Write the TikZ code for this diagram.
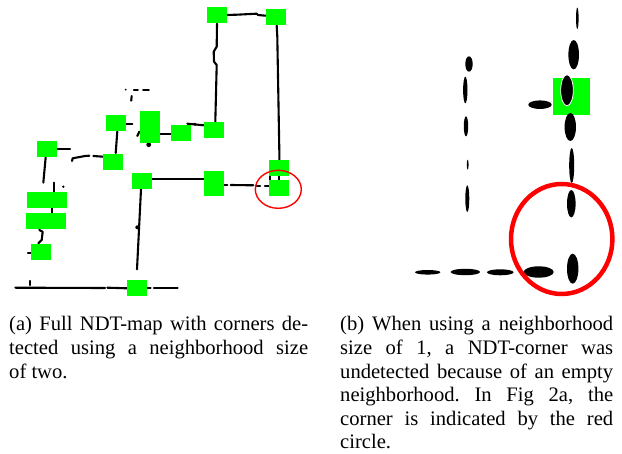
\documentclass[tikz,border=0pt]{standalone}
\usepackage{fontspec}
\setmainfont{Liberation Serif}
\usetikzlibrary{calc}
\tikzset{
  corner/.style={fill=green,inner sep=0pt,minimum width=20pt,minimum height=16.3pt},
  wall/.style={line width=2.1pt,line cap=round,line join=round},
  ndt/.style={fill=black},
  caption/.style={inner sep=0pt,anchor=north west,align=justify,font=\fontsize{20.6}{23.6}\selectfont\frenchspacing},
}
\begin{document}
\begin{tikzpicture}[x=1pt,y=-1pt]
\useasboundingbox (0,0) rectangle (622,454);
% scan walls of the full map
\draw[wall] (226.7,15) -- (236.7,14.7) -- (256.7,13.7) -- (258,15) -- (265.7,15.7);
\draw[wall] (217,23.7) -- (216.7,46.7) -- (213.7,51.7) -- (214,61.7) -- (216.7,65) -- (215.3,122);
\draw[wall] (276.7,25.7) -- (277.3,36.7) -- (279.3,150) -- (279.3,160);
\draw[wall] (133.8,90.3) -- (137.8,90.3);
\draw[wall] (143.2,90.3) -- (148.8,90.3);
\draw[wall] (131.7,96) -- (131.2,100.7);
\draw[wall] (126,124.3) -- (132.3,124.3);
\draw[wall] (117.3,131.7) -- (115.7,153);
\draw[wall] (137.3,136) -- (139.3,131.7);
\draw[wall] (160.3,134) -- (171,134);
\draw[wall] (187.3,123.7) -- (203.7,125.3);
\draw[wall] (57.3,148.7) -- (70,148.7);
\draw[wall] (72,161) -- (72.7,158.3) -- (85,156) -- (89.3,155.7);
\draw[wall] (93.3,156) -- (103,156.7);
\draw[wall] (45.7,157.3) -- (43.3,182.7);
\draw[wall] (54,182.7) -- (54,191.7);
\draw[wall] (52.3,207.7) -- (52.3,212.7);
\draw[wall] (39.3,230) -- (42.7,231.7) -- (41.7,240) -- (38.3,243.3);
\draw[wall] (28,252.7) -- (31.3,252.7);
\draw[wall] (152,179.3) -- (204,179.3);
\draw[wall] (224,185.3) -- (227.3,185.3);
\draw[wall] (230.7,185) -- (253.3,185.3);
\draw[wall] (256.7,185.7) -- (260,185.7);
\draw[wall] (265,185.7) -- (269,185.7);
\draw[wall] (269.7,176) -- (269.7,180);
\draw[wall] (278.7,176) -- (278.7,180);
\draw[wall] (141,189.3) -- (137,269.3);
\draw[wall] (15.3,287.7) -- (105,288);
\draw[wall] (107.3,287.7) -- (127,288.3);
\draw[wall] (30,281) -- (30,285);
\draw[wall] (147,288.3) -- (150.7,288.3);
\draw[wall] (154,288.3) -- (177.7,288.3);
\fill (125.7,89.7) circle (1);
\fill (148.7,144.7) circle (2.4);
\fill (63.3,186.7) circle (1.3);
\fill (137.3,227.3) circle (2);
\fill (195,124.3) circle (1.7);
% detected corners
\node[corner] (topleft) at (216.7,15.3) {};
\node[corner] (topright) at (275.7,17.3) {};
\node[corner] (midA) at (116,123.3) {};
\node[corner] (midB) at (150.3,118.7) {};
\node[corner] (midC) at (150.3,134.8) {};
\node[corner] (midD) at (181,133) {};
\node[corner] (midE) at (213.7,130) {};
\node[corner] (leftA) at (47.3,149) {};
\node[corner] (midF) at (113,161.7) {};
\node[corner] (roomA) at (142,181) {};
\node[corner,minimum height=25pt] (roomB) at (214,183.5) {};
\node[corner] (roomC) at (279,167.7) {};
\node[corner] (roomD) at (279,188) {};
\node[corner] (leftB) at (36.8,199.7) {};
\node[corner] (leftC) at (56.5,199.7) {};
\node[corner] (leftD) at (35.8,220.7) {};
\node[corner] (leftE) at (55.5,220.7) {};
\node[corner] (leftF) at (41,252) {};
\node[corner] (bottom) at (137,288) {};
\draw[red,line width=1.4pt] (278.3,189.3) ellipse [x radius=23,y radius=19];
% closer view
\node[corner,minimum width=37pt,minimum height=37pt] (zoomcorner) at (571.8,96.2) {};
\fill[ndt] (577.3,18.3) ellipse [x radius=1.3,y radius=10.7];
\fill[ndt] (573.7,54.7) ellipse [x radius=5.3,y radius=14.7];
\filldraw[ndt,draw=white,line width=0.8pt] (567,90.3) ellipse [x radius=6.3,y radius=15.5];
\fill[ndt] (540,104.7) ellipse [x radius=11.7,y radius=4.3];
\fill[ndt] (570.3,127) ellipse [x radius=5.7,y radius=14];
\fill[ndt] (571.7,165.5) ellipse [x radius=2.5,y radius=17.5];
\fill[ndt] (571.3,203.7) ellipse [x radius=4.3,y radius=13.7];
\fill[ndt] (572.7,268.7) ellipse [x radius=5.7,y radius=15];
\fill[ndt] (538.7,272) ellipse [x radius=15,y radius=5.7];
\fill[ndt] (500.3,272.3) ellipse [x radius=13.3,y radius=3];
\fill[ndt] (465.3,272) ellipse [x radius=14.7,y radius=3.2];
\fill[ndt] (427.7,272.3) ellipse [x radius=12.7,y radius=2.3];
\fill[ndt] (469,64) ellipse [x radius=3.7,y radius=7.7];
\fill[ndt] (465.3,90) ellipse [x radius=2.2,y radius=13.3];
\fill[ndt] (466,126.3) ellipse [x radius=2.2,y radius=10];
\fill[ndt] (467.7,164.7) ellipse [x radius=0.9,y radius=5];
\fill[ndt] (467.3,198.7) ellipse [x radius=2,y radius=13.3];
\draw[red,line width=4.5pt] (561.7,239) ellipse [x radius=50.7,y radius=55];
% captions
\node[caption,text width=299pt] (captiona) at (9,316.5) {(a) Full NDT-map with corners de-\linebreak tected using a neighborhood size\linebreak of two.};
\node[caption,text width=273pt] (captionb) at (340,316.5) {(b) When using a neighborhood\linebreak size of 1, a NDT-corner was\linebreak undetected because of an empty\linebreak neighborhood. In Fig 2a, the\linebreak corner is indicated by the red\linebreak circle.};
\end{tikzpicture}
\end{document}
